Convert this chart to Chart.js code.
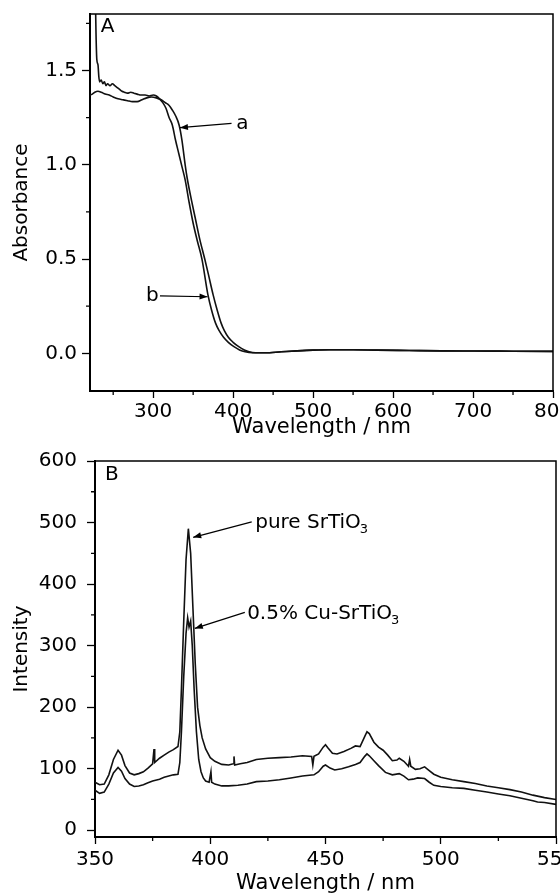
<!DOCTYPE html>
<html>
<head>
<meta charset="utf-8">
<script src="https://cdn.jsdelivr.net/npm/chart.js@4.4.1/dist/chart.umd.min.js"></script>
<style>
  html, body { margin: 0; padding: 0; background: #fff; }
  #wrap { position: relative; width: 560px; height: 896px; }
  canvas { position: absolute; left: 0; }
</style>
</head>
<body>
<div id="wrap">
  <canvas id="c1" width="560" height="440" style="top:0"></canvas>
  <canvas id="c2" width="560" height="456" style="top:440px"></canvas>
</div>
<script>
// ---------- Panel A: UV-vis absorbance ----------
const absorbanceA = [[221,1.37],[224,1.375],[227,1.385],[231,1.39],[235,1.385],[240,1.375],[245,1.37],[250,1.36],[256,1.35],[262,1.345],[268,1.34],[274,1.335],[280,1.335],[286,1.345],[292,1.355],[298,1.36],[304,1.355],[310,1.345],[315,1.33],[320,1.315],[324,1.29],[328,1.26],[332.5,1.21],[336,1.13],[340,1.0],[342.5,0.93],[348,0.81],[353,0.71],[358,0.61],[364.5,0.5],[369,0.42],[375,0.31],[380,0.23],[385,0.16],[389,0.12],[394,0.085],[400,0.058],[407,0.035],[414,0.018],[420,0.008],[428,0.003],[440,0.003],[460,0.008],[480,0.013],[500,0.017],[520,0.019],[550,0.019],[580,0.017],[620,0.015],[660,0.013],[700,0.012],[750,0.011],[800,0.01]];
const absorbanceB = [[227.5,1.95],[228.5,1.7],[229.5,1.56],[231,1.53],[232,1.47],[233,1.44],[235,1.45],[237,1.43],[239,1.44],[241,1.42],[243,1.43],[246,1.42],[249,1.43],[252,1.42],[255,1.41],[258,1.40],[261,1.39],[264,1.385],[268,1.38],[272,1.385],[276,1.38],[280,1.375],[285,1.37],[290,1.37],[295,1.365],[300,1.37],[304,1.365],[308,1.35],[312,1.33],[316,1.3],[320,1.25],[324,1.21],[328,1.13],[332,1.06],[336,0.99],[340,0.92],[345,0.8],[350,0.69],[355,0.6],[361,0.5],[368.5,0.31],[373,0.23],[378,0.16],[382.5,0.12],[388,0.085],[394,0.058],[401,0.035],[408,0.018],[415,0.008],[424,0.003],[440,0.003],[460,0.008],[480,0.013],[500,0.017],[520,0.019],[550,0.019],[580,0.017],[620,0.015],[660,0.013],[700,0.012],[750,0.011],[800,0.01]];
const xTicksA = [300, 400, 500, 600, 700, 800];
const xMinorA = [250, 350, 450, 550, 650, 750];
const yTicksA = [0, 0.5, 1.0, 1.5];
const yMinorA = [0.25, 0.75, 1.25, 1.75];

// ---------- Panel B: photoluminescence ----------
const intensityPure = [[350,78],[352,74],[354,75],[356,90],[358,115],[360,130],[361.5,122],[363,105],[365,93],[367,90],[369,92],[371,95],[373,101],[375,108],[375.6,132],[375.9,110],[378,117],[380,122],[382,127],[384,131],[386,136],[386.8,160],[387.5,230],[388.5,340],[389.5,440],[390.5,490],[391.5,450],[392.5,360],[393.5,270],[394.5,200],[395.5,170],[396.5,150],[398,132],[400,118],[402,112],[405,107],[408,106],[410,108],[410.3,120],[410.6,106],[413,108],[416,110],[420,115],[425,117],[430,118],[435,119],[440,121],[444,120],[444.5,106],[445,120],[447,124],[449,135],[450,139],[451,134],[453,125],[455,124],[458,128],[461,133],[463,137],[465,136],[467,152],[468,160],[469,157],[471,143],[473,135],[475,130],[477,122],[479,113],[481,114],[482,117],[484,112],[486,104],[486.5,115],[487,104],[489,99],[491,100],[493,103],[495,97],[497,91],[500,86],[505,82],[510,79],[515,76],[520,72],[525,69],[530,66],[535,62],[540,57],[545,53],[550,50]];
const intensityCu = [[350,65],[352,60],[354,62],[356,75],[358,93],[360,102],[361.5,96],[363,84],[365,75],[367,71],[369,72],[371,74],[373,77],[375,80],[378,83],[380,86],[382,88],[384,90],[386,91],[386.8,110],[387.5,160],[388.5,250],[389.5,320],[390.2,345],[390.8,330],[391.5,340],[392.2,300],[393,230],[394,160],[395,115],[396,95],[397,85],[398,80],[399.5,78],[400.3,95],[400.6,78],[402,75],[405,72],[408,72],[412,73],[416,75],[420,79],[425,80],[430,82],[435,85],[440,88],[445,90],[447,95],[449,104],[450,106],[452,101],[454,98],[457,100],[460,103],[463,107],[465,110],[467,120],[468,124],[469,121],[471,113],[473,105],[476,94],[479,90],[482,92],[484,88],[486,82],[488,83],[490,85],[493,84],[495,78],[497,73],[500,71],[505,69],[510,68],[515,65],[520,62],[525,59],[530,56],[535,52],[540,48],[542,46],[545,45],[550,42]];
const xTicksB = [350, 400, 450, 500, 550];
const xMinorB = [375, 425, 475, 525];
const yTicksB = [0, 100, 200, 300, 400, 500, 600];
const yMinorB = [50, 150, 250, 350, 450, 550];

const FONT = "'DejaVu Sans', sans-serif";
Chart.defaults.font.family = FONT;
Chart.defaults.font.size = 20;
Chart.defaults.color = '#000';

function toXY(arr) { return arr.map(p => ({x: p[0], y: p[1]})); }

function drawArrow(ctx, x1, y1, x2, y2) {
  ctx.beginPath(); ctx.moveTo(x1, y1); ctx.lineTo(x2, y2); ctx.stroke();
  const ang = Math.atan2(y2 - y1, x2 - x1), L = 8, W = 3;
  ctx.beginPath();
  ctx.moveTo(x2, y2);
  ctx.lineTo(x2 - L*Math.cos(ang) + W*Math.sin(ang), y2 - L*Math.sin(ang) - W*Math.cos(ang));
  ctx.lineTo(x2 - L*Math.cos(ang) - W*Math.sin(ang), y2 - L*Math.sin(ang) + W*Math.cos(ang));
  ctx.closePath(); ctx.fill();
}

const decor = {
  id: 'decor',
  afterDraw(chart, args, opts) {
    const {ctx, chartArea: a, scales: {x, y}} = chart;
    ctx.save();
    ctx.strokeStyle = '#000'; ctx.fillStyle = '#000';
    ctx.lineWidth = 1.5;
    ctx.beginPath();
    ctx.moveTo(a.left, a.top); ctx.lineTo(a.right, a.top); ctx.lineTo(a.right, a.bottom);
    ctx.stroke();
    ctx.lineWidth = 1.3;
    ctx.beginPath();
    opts.minorX.forEach(v => { const p = x.getPixelForValue(v); ctx.moveTo(p, a.bottom); ctx.lineTo(p, a.bottom + 4); });
    opts.minorY.forEach(v => { const p = y.getPixelForValue(v); ctx.moveTo(a.left, p); ctx.lineTo(a.left - 4, p); });
    ctx.stroke();
    ctx.lineWidth = 1.2;
    ctx.textBaseline = 'middle';
    opts.notes.forEach(n => {
      ctx.font = '20px ' + FONT;
      const tx = x.getPixelForValue(n.tx), ty = y.getPixelForValue(n.ty);
      if (n.arrow) {
        drawArrow(ctx, x.getPixelForValue(n.arrow[0]), y.getPixelForValue(n.arrow[1]),
                       x.getPixelForValue(n.arrow[2]), y.getPixelForValue(n.arrow[3]));
      }
      ctx.textAlign = n.align || 'left';
      ctx.fillText(n.text, tx, ty);
      if (n.sub) {
        const w = ctx.measureText(n.text).width;
        ctx.font = '13px ' + FONT;
        ctx.textAlign = 'left';
        ctx.fillText(n.sub, tx + w - 1, ty + 7);
      }
    });
    ctx.restore();
  }
};

function makeChart(id, cfg) {
  return new Chart(document.getElementById(id), {
    type: 'scatter',
    data: {
      datasets: cfg.series.map(s => ({
        data: toXY(s), showLine: true, pointRadius: 0, borderColor: '#111',
        borderWidth: 1.6, fill: false,
        cubicInterpolationMode: cfg.smooth ? 'monotone' : 'default', tension: 0
      }))
    },
    options: {
      responsive: false, animation: false, devicePixelRatio: 1,
      layout: { padding: cfg.padding },
      plugins: { legend: { display: false }, tooltip: { enabled: false },
        decor: { minorX: cfg.minorX, minorY: cfg.minorY, notes: cfg.notes } },
      scales: {
        x: {
          type: 'linear', min: cfg.xMin, max: cfg.xMax,
          afterBuildTicks: s => { s.ticks = cfg.xTicks.map(v => ({value: v})); },
          afterFit: s => { s.height = cfg.xH; s.paddingLeft = 0; s.paddingRight = 0; },
          grid: { drawOnChartArea: false, drawTicks: true, tickLength: 7, tickColor: '#000', tickWidth: 1.3 },
          border: { display: true, color: '#000', width: 2 },
          ticks: { color: '#000', padding: cfg.xPad, maxRotation: 0, autoSkip: false, font: {size: 20} },
          title: { display: true, text: 'Wavelength / nm', color: '#000', font: {size: 21}, padding: {top: 0, bottom: 0} }
        },
        y: {
          type: 'linear', min: cfg.yMin, max: cfg.yMax,
          afterBuildTicks: s => { s.ticks = cfg.yTicks.map(v => ({value: v})); },
          afterFit: s => { s.width = cfg.yW; s.paddingTop = 0; s.paddingBottom = 0; },
          grid: { drawOnChartArea: false, drawTicks: true, tickLength: 8, tickColor: '#000', tickWidth: 1.3 },
          border: { display: true, color: '#000', width: 2 },
          ticks: { color: '#000', padding: cfg.yPad, autoSkip: false, font: {size: 20}, callback: cfg.yFmt },
          title: { display: true, text: cfg.yTitle, color: '#000', font: {size: 20}, padding: {top: 10, bottom: 0} }
        }
      }
    },
    plugins: [decor]
  });
}

makeChart('c1', {
  series: [absorbanceA, absorbanceB], smooth: true,
  padding: {top: 14, right: 7, left: 0, bottom: 0},
  xMin: 221, xMax: 800, yMin: -0.2, yMax: 1.8,
  xTicks: xTicksA, yTicks: yTicksA, minorX: xMinorA, minorY: yMinorA,
  xH: 49, yW: 90, xPad: 2, yPad: 5,
  yTitle: 'Absorbance', yFmt: v => v.toFixed(1),
  notes: [
    {text: 'A', tx: 234.5, ty: 1.73},
    {text: 'a', tx: 404, ty: 1.22, arrow: [398, 1.22, 333.5, 1.197]},
    {text: 'b', tx: 307, ty: 0.305, align: 'right', arrow: [308.5, 0.305, 368, 0.30]}
  ]
});

makeChart('c2', {
  series: [intensityPure, intensityCu], smooth: false,
  padding: {top: 21, right: 4, left: 0, bottom: 0},
  xMin: 350, xMax: 550, yMin: -11, yMax: 600,
  xTicks: xTicksB, yTicks: yTicksB, minorX: xMinorB, minorY: yMinorB,
  xH: 59, yW: 95, xPad: 4, yPad: 10,
  yTitle: 'Intensity', yFmt: v => String(v),
  notes: [
    {text: 'B', tx: 354.3, ty: 578},
    {text: 'pure SrTiO', sub: '3', tx: 419.5, ty: 500, arrow: [418, 501, 392.6, 476]},
    {text: '0.5% Cu-SrTiO', sub: '3', tx: 416, ty: 352, arrow: [415, 354, 393.3, 328]}
  ]
});
</script>
</body>
</html>
